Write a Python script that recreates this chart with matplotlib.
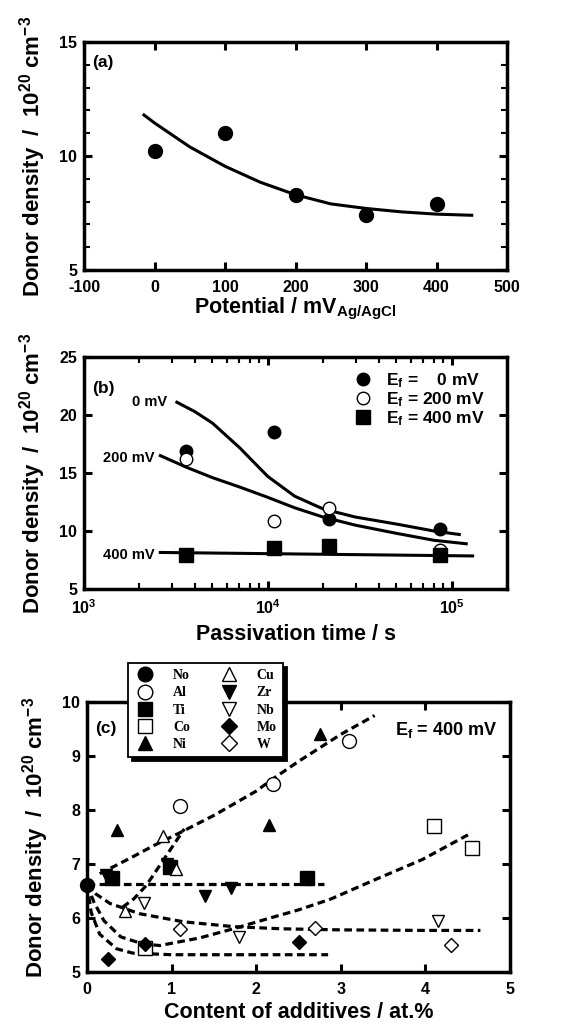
import numpy as np
import matplotlib
matplotlib.use('Agg')
import matplotlib.pyplot as plt

plt.rcParams['font.family'] = 'Liberation Sans'
plt.rcParams['font.weight'] = 'bold'
plt.rcParams['axes.labelweight'] = 'bold'
plt.rcParams['axes.unicode_minus'] = False
plt.rcParams['mathtext.fontset'] = 'custom'
plt.rcParams['mathtext.rm'] = 'Liberation Sans:bold'
plt.rcParams['mathtext.bf'] = 'Liberation Sans:bold'
plt.rcParams['mathtext.it'] = 'Liberation Sans:bold'
plt.rcParams['mathtext.default'] = 'rm'

# (a) donor density vs film formation potential
pot = [0, 100, 200, 300, 400]
nd_pot = [10.2, 11.0, 8.3, 7.4, 7.9]
fit_pot_x = [-15, 0, 50, 100, 150, 200, 250, 300, 350, 400, 450]
fit_pot_y = [11.8, 11.45, 10.4, 9.55, 8.85, 8.3, 7.9, 7.7, 7.55, 7.45, 7.4]

# (b) donor density vs passivation time
t = [3600, 10800, 21600, 86400]
nd_0 = [16.9, 18.5, 11.0, 10.2]
nd_200 = [16.2, 10.9, 12.0, 8.4]
nd_400 = [7.9, 8.5, 8.7, 7.9]
fit0_t = [3200, 4000, 5000, 7000, 10000, 14000, 20000, 30000, 50000, 80000, 110000]
fit0_y = [21.1, 20.3, 19.3, 17.2, 14.7, 13.0, 11.9, 11.2, 10.6, 10.0, 9.7]
fit200_t = [2600, 3600, 5000, 7000, 10000, 14000, 20000, 30000, 50000, 80000, 120000]
fit200_y = [16.5, 15.5, 14.6, 13.8, 12.9, 12.0, 11.2, 10.5, 9.8, 9.2, 8.9]
fit400_t = [2600, 130000]
fit400_y = [8.15, 7.85]

# (c) donor density vs additive content (Ef = 400 mV)
c_no = [0]; nd_no = [6.62]
c_al = [1.1, 2.2, 3.1]; nd_al = [8.07, 8.48, 9.27]
c_ti = [0.3, 0.98, 2.6]; nd_ti = [6.75, 6.95, 6.75]
c_co = [0.68, 4.1, 4.55]; nd_co = [5.45, 7.7, 7.3]
c_ni = [0.35, 2.15, 2.75]; nd_ni = [7.63, 7.72, 9.4]
c_cu = [0.45, 0.9, 1.05]; nd_cu = [6.13, 7.52, 6.9]
c_zr = [0.22, 0.95, 1.4, 1.7]; nd_zr = [6.8, 7.0, 6.4, 6.55]
c_nb = [0.67, 1.8, 4.15]; nd_nb = [6.27, 5.65, 5.95]
c_mo = [0.25, 0.68, 2.5]; nd_mo = [5.25, 5.52, 5.55]
c_w = [1.1, 2.7, 4.3]; nd_w = [5.8, 5.82, 5.5]

trend1_x = [0.15, 0.5, 0.8, 1.1, 1.5, 2.0, 2.2, 2.5, 3.0, 3.4]
trend1_y = [6.82, 7.1, 7.35, 7.58, 7.9, 8.35, 8.58, 8.9, 9.4, 9.75]
trend2_x = [0.42, 0.55, 0.7, 0.85, 1.0, 1.15]
trend2_y = [6.2, 6.35, 6.6, 6.95, 7.3, 7.65]
flat_x = [0, 2.8]
flat_y = [6.63, 6.63]
trendB_x = [0, 0.1, 0.27, 0.62, 1.14, 1.73, 2.3, 3.0, 4.0, 4.65]
trendB_y = [6.62, 6.45, 6.27, 6.08, 5.93, 5.84, 5.8, 5.78, 5.77, 5.77]
trendC_x = [0, 0.08, 0.2, 0.4, 0.66, 0.86, 1.33, 1.73, 2.12, 2.5, 2.88, 3.42, 3.96, 4.55]
trendC_y = [6.62, 6.3, 5.95, 5.65, 5.52, 5.49, 5.63, 5.8, 5.98, 6.15, 6.35, 6.72, 7.08, 7.58]
trendD_x = [0, 0.05, 0.15, 0.35, 0.54, 1.0, 2.85]
trendD_y = [6.62, 6.1, 5.7, 5.43, 5.35, 5.32, 5.32]

fig = plt.figure(figsize=(5.7, 10.25), dpi=100)
W = 423 / 570
ax1 = fig.add_axes([84 / 570, 755 / 1025, W, 228 / 1025])
ax2 = fig.add_axes([84 / 570, 436 / 1025, W, 232 / 1025])
ax3 = fig.add_axes([87 / 570, 53 / 1025, W, 270 / 1025])

ylab = 'Donor density  /  10$^{20}$ cm$^{-3}$'
tk = dict(fontweight='bold', fontsize=11.5)


def style(ax):
    for s in ax.spines.values():
        s.set_linewidth(2.5)
    ax.tick_params(which='major', direction='in', top=True, right=True,
                   length=6, width=2.2)
    ax.tick_params(axis='x', which='major', pad=7)
    ax.tick_params(axis='y', which='major', pad=5)
    ax.tick_params(which='minor', direction='in', top=True, right=True,
                   length=4, width=1.5)


# ---- (a)
ax1.plot(fit_pot_x, fit_pot_y, color='k', lw=2.2)
ax1.plot(pot, nd_pot, 'o', color='k', ms=10)
ax1.set_xlim(-100, 500)
ax1.set_ylim(5, 15)
xa = list(range(-100, 501, 100))
ax1.set_xticks(xa, labels=[str(v) for v in xa], **tk)
ax1.set_yticks([5, 10, 15], labels=['5', '10', '15'], **tk)
ax1.set_yticks(range(6, 15), minor=True)
style(ax1)
ax1.set_xlabel('Potential / mV$_{\\mathregular{Ag/AgCl}}$', fontsize=15.5, labelpad=1)
ax1.set_ylabel(ylab, fontsize=16, labelpad=8)
ax1.text(0.02, 0.912, '(a)', transform=ax1.transAxes, va='center', fontsize=12.5)

# ---- (b)
ax2.plot(fit0_t, fit0_y, color='k', lw=2.2)
ax2.plot(fit200_t, fit200_y, color='k', lw=2.2)
ax2.plot(fit400_t, fit400_y, color='k', lw=2.2)
ax2.plot(t, nd_0, 'o', color='k', ms=9, label='E$_\\mathrm{f}$ =    0 mV')
ax2.plot(t, nd_200, 'o', mfc='white', mec='k', mew=1, ms=9, label='E$_\\mathrm{f}$ = 200 mV')
ax2.plot(t, nd_400, 's', color='k', ms=10, label='E$_\\mathrm{f}$ = 400 mV')
ax2.set_xscale('log')
ax2.set_xlim(1e3, 2e5)
ax2.set_ylim(5, 25)
ax2.set_yticks([5, 10, 15, 20, 25], labels=['5', '10', '15', '20', '25'], **tk)
ax2.set_xticks([1e3, 1e4, 1e5], labels=['10$^{3}$', '10$^{4}$', '10$^{5}$'], **tk)
style(ax2)
ax2.set_xlabel('Passivation time / s', fontsize=15.5, labelpad=5)
ax2.set_ylabel(ylab, fontsize=16, labelpad=8)
ax2.text(0.02, 0.866, '(b)', transform=ax2.transAxes, va='center', fontsize=12.5)
ax2.text(2820, 21.1, '0 mV', ha='right', va='center', fontsize=10.5)
ax2.text(2430, 16.3, '200 mV', ha='right', va='center', fontsize=10.5)
ax2.text(2430, 7.9, '400 mV', ha='right', va='center', fontsize=10.5)
ax2.legend(loc='upper right', bbox_to_anchor=(0.976, 0.99), frameon=False,
           prop={'weight': 'bold', 'size': 12.5}, handletextpad=0.7,
           labelspacing=0.0, borderaxespad=0.3, handlelength=1.2)

# ---- (c)
dash = dict(color='k', lw=2.3, ls=(0, (2.4, 1.4)))
for xx, yy in [(trend1_x, trend1_y), (trend2_x, trend2_y), (flat_x, flat_y),
               (trendB_x, trendB_y), (trendC_x, trendC_y), (trendD_x, trendD_y)]:
    ax3.plot(xx, yy, **dash)

ms = 9
open_kw = dict(mfc='white', mec='k', mew=1, ls='none')
fill_kw = dict(color='k', ls='none')
h = []
h += ax3.plot(c_no, nd_no, 'o', ms=ms + 1, label='No', **fill_kw)
h += ax3.plot(c_al, nd_al, 'o', ms=ms + 1, label='Al', **open_kw)
h += ax3.plot(c_ti, nd_ti, 's', ms=ms + 0.5, label='Ti', **fill_kw)
h += ax3.plot(c_co, nd_co, 's', ms=ms + 0.5, label='Co', **open_kw)
h += ax3.plot(c_ni, nd_ni, '^', ms=ms, label='Ni', **fill_kw)
h += ax3.plot(c_cu, nd_cu, '^', ms=ms, label='Cu', **open_kw)
h += ax3.plot(c_zr, nd_zr, 'v', ms=ms, label='Zr', **fill_kw)
h += ax3.plot(c_nb, nd_nb, 'v', ms=ms, label='Nb', **open_kw)
h += ax3.plot(c_mo, nd_mo, 'D', ms=ms - 1.5, label='Mo', **fill_kw)
h += ax3.plot(c_w, nd_w, 'D', ms=ms - 1.5, label='W', **open_kw)
for ln in h:
    ln.set_clip_on(False)

ax3.set_xlim(0, 5)
ax3.set_ylim(5, 10)
ax3.set_xticks(range(0, 6), labels=[str(v) for v in range(0, 6)], **tk)
ax3.set_yticks(range(5, 11), labels=[str(v) for v in range(5, 11)], **tk)
style(ax3)
ax3.set_xlabel('Content of additives / at.%', fontsize=15.5, labelpad=4)
ax3.set_ylabel(ylab, fontsize=16, labelpad=8)
ax3.text(0.02, 0.9, '(c)', transform=ax3.transAxes, va='center', fontsize=12.5)
ax3.text(0.97, 0.896, 'E$_\\mathrm{f}$ = 400 mV', transform=ax3.transAxes, ha='right',
         va='center', fontsize=13)

leg = ax3.legend(handles=h, ncol=2, loc='upper left',
                 bbox_to_anchor=(128 / 570, 1 - 663 / 1025), bbox_transform=fig.transFigure,
                 prop={'family': 'Liberation Serif', 'weight': 'bold', 'size': 10},
                 fancybox=False, edgecolor='k', framealpha=1,
                 shadow={'color': 'k', 'alpha': 1, 'ox': 3, 'oy': -3},
                 handlelength=1.6, handletextpad=1.2, columnspacing=2.0,
                 labelspacing=0.3, borderpad=0.45, borderaxespad=0, markerscale=1.05)
leg.get_frame().set_linewidth(1.3)
leg.set_zorder(10)

fig.savefig('out.png', dpi=100)
